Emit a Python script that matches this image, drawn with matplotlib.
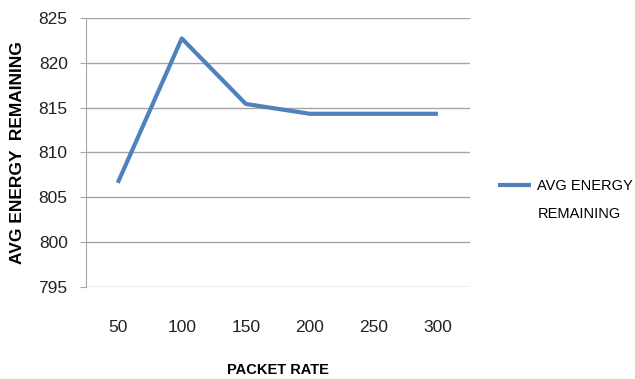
import matplotlib
matplotlib.use("Agg")
import matplotlib.pyplot as plt

# data
packet_rate = ["50", "100", "150", "200", "250", "300"]
avg_energy = [806.6, 822.7, 815.4, 814.3, 814.3, 814.3]
y_ticks = [795, 800, 805, 810, 815, 820, 825]

plt.rcParams["font.family"] = ["Liberation Sans", "DejaVu Sans"]

LINE_COLOR = "#4F81BD"
GRID_COLOR = "#A6A6A6"
TEXT_COLOR = "#222222"

fig = plt.figure(figsize=(6.35, 3.79), dpi=100)
ax = fig.add_axes([0.135, 0.243, 0.605, 0.71])

xs = [i + 0.5 for i in range(len(packet_rate))]
line, = ax.plot(xs, avg_energy, color=LINE_COLOR, linewidth=3.0,
                solid_capstyle="butt", zorder=3)

ax.set_xlim(0, len(packet_rate))
ax.set_ylim(y_ticks[0], y_ticks[-1])
ax.set_xticks(xs)
ax.set_xticklabels(packet_rate)
ax.set_yticks(y_ticks)

ax.grid(axis="y", color=GRID_COLOR, linewidth=1.0)
ax.set_axisbelow(True)
for s in ["top", "right", "bottom"]:
    ax.spines[s].set_visible(False)
ax.spines["left"].set_color(GRID_COLOR)
ax.tick_params(axis="y", length=4, color=GRID_COLOR, labelsize=12.5,
               labelcolor=TEXT_COLOR, pad=9)
ax.tick_params(axis="x", length=0, labelsize=12.5, labelcolor=TEXT_COLOR, pad=24)

ax.set_xlabel("PACKET RATE", fontsize=10.5, fontweight="bold", labelpad=20)
ax.set_ylabel("AVG ENERGY  REMAINING", fontsize=12.5, fontweight="bold",
              labelpad=10)

# legend: handle lines up with the first text line, as in the original
leg = fig.legend([line], ["AVG ENERGY"], loc="center left",
                 bbox_to_anchor=(0.784, 0.508), frameon=False, fontsize=10.5,
                 handlelength=2.3, handletextpad=0.4, borderaxespad=0,
                 borderpad=0)
fig.text(0.847, 0.435, "REMAINING", fontsize=10.5, va="center", ha="left")

fig.savefig("out.png", dpi=100)
